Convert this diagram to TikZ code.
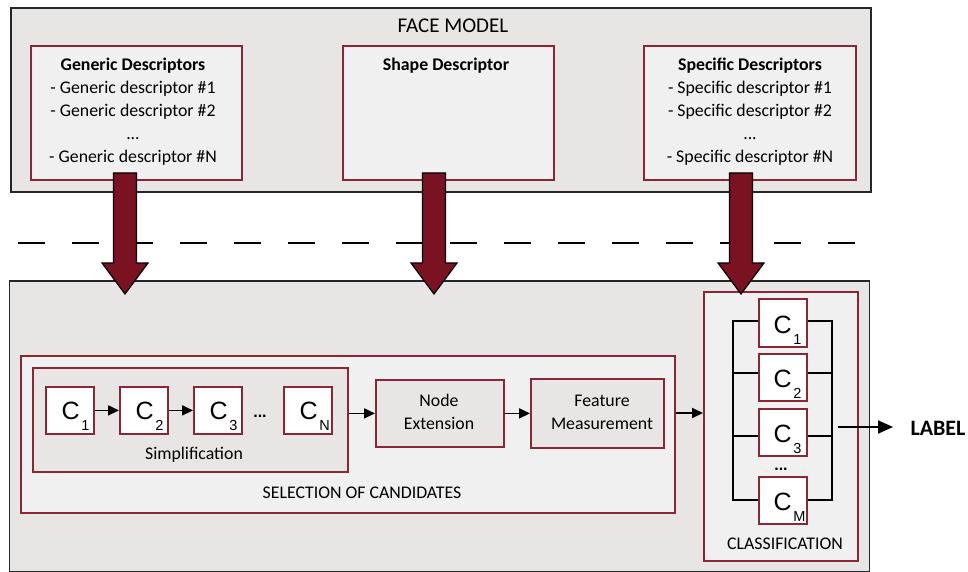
\documentclass[tikz,border=0pt]{standalone}
\usepackage{fontspec}
\setmainfont{Carlito}
\newfontfamily\arialfont{Liberation Sans}
\usetikzlibrary{calc,arrows.meta}

\definecolor{panelgray}{HTML}{E7E6E4}
\definecolor{boxgray}{HTML}{F0F0F0}
\definecolor{wine}{HTML}{8B2635}
\definecolor{arrowred}{HTML}{7A1222}

% classifier label: C with a lowered index
\newcommand{\clabel}[1]{{\arialfont\fontsize{25}{25}\selectfont C\kern1.5pt\raisebox{-11pt}{\fontsize{14.5}{14.5}\selectfont #1}}}

\begin{document}
\begin{tikzpicture}[x=1pt,y=-1pt,
  panel/.style={draw=black!85, line width=1.8pt, fill=panelgray, anchor=north west, inner sep=0pt},
  wbox/.style={draw=wine, line width=1.8pt, fill=boxgray, anchor=north west, inner sep=0pt},
  gbox/.style={draw=wine, line width=1.8pt, fill=panelgray, anchor=north west, inner sep=0pt},
  cbox/.style={draw=wine, line width=1.8pt, fill=white, anchor=north west, inner sep=0pt,
               minimum width=48pt, minimum height=47pt},
  clab/.style={anchor=base west, inner sep=0pt},
  txt/.style={inner sep=0pt, anchor=base, font=\fontsize{17.8}{23}\selectfont, align=center},
  dots/.style={inner sep=0pt, anchor=base, font=\arialfont\bfseries\fontsize{16}{16}\selectfont},
  link/.style={line width=1.8pt, -{Triangle[length=11pt,width=10pt]}},
  bus/.style={line width=1.6pt, black},
  fat/.style={draw=black, line width=1.2pt, fill=arrowred, line join=miter},
]
\useasboundingbox (0,0) rectangle (968,572);

% ---------- face model ----------
\node[panel, minimum width=860pt, minimum height=184pt] (model) at (10,7) {};
\node[txt, font=\fontsize{21}{21}\selectfont] (modeltitle) at (453,33) {FACE MODEL};

\node[wbox, minimum width=211pt, minimum height=134pt] (gen) at (30,45) {};
\node[wbox, minimum width=211pt, minimum height=134pt] (shape) at (342,45) {};
\node[wbox, minimum width=212pt, minimum height=134pt] (spec) at (643,45) {};

% multi-line nodes are anchored on the baseline of their last line
\node[txt] (gentext) at (133,163) {\textbf{Generic Descriptors}\\- Generic descriptor \#1\\- Generic descriptor \#2\\...\\- Generic descriptor \#N};
\node[txt] (shapetext) at (446,71) {\textbf{Shape Descriptor}};
\node[txt] (spectext) at (750,163) {\textbf{Specific Descriptors}\\- Specific descriptor \#1\\- Specific descriptor \#2\\...\\- Specific descriptor \#N};

% ---------- separator ----------
\coordinate (sepL) at (18,243);
\coordinate (sepR) at (880,243);
\draw[line width=2pt, dash pattern=on 27pt off 27pt] (sepL) -- (sepR);

% ---------- processing panel ----------
\node[panel, minimum width=860pt, minimum height=291pt] (proc) at (8.5,280) {};

% selection of candidates
\node[wbox, minimum width=654pt, minimum height=157pt] (sel) at (20,355) {};
\node[txt] (seltext) at (362,498) {SELECTION OF CANDIDATES};

\node[gbox, minimum width=315pt, minimum height=104pt] (simp) at (32,367) {};
\node[txt] (simptext) at (194,459) {Simplification};

\node[cbox] (s1) at (45,386) {};
\node[cbox] (s2) at (119,386) {};
\node[cbox] (s3) at (193,386) {};
\node[cbox] (sn) at (283,386) {};
\path (s1.south west) ++(16.5,-15) node[clab] (s1l) {\clabel{1}};
\path (s2.south west) ++(16.5,-15) node[clab] (s2l) {\clabel{2}};
\path (s3.south west) ++(16.5,-15) node[clab] (s3l) {\clabel{3}};
\path (sn.south west) ++(16.5,-15) node[clab] (snl) {\clabel{N}};
\node[dots] (sdots) at (260,417) {...};
\draw[link] (s1) -- (s2);
\draw[link] (s2) -- (s3);

\node[gbox, minimum width=128pt, minimum height=67pt] (ext) at (375,379) {};
\node[txt] (exttext) at (439,429) {Node\\Extension};
\node[gbox, minimum width=133pt, minimum height=69pt] (feat) at (530,378) {};
\node[txt] (feattext) at (602,429) {Feature\\Measurement};

\draw[link] (simp.east |- ext.west) -- (ext.west);
\draw[link] (ext) -- (feat.west |- ext.east);

% classification
\node[wbox, minimum width=154pt, minimum height=269pt] (cls) at (703,291) {};
\node[txt] (clstext) at (785,549) {CLASSIFICATION};
\draw[link] (sel.east |- 0,413) -- (cls.west |- 0,413);

\node[cbox, minimum height=48pt] (k1) at (758,298) {};
\node[cbox] (k2) at (758,353) {};
\node[cbox] (k3) at (758,408) {};
\node[cbox] (km) at (758,476) {};
\path (k1.south west) ++(15.5,-14) node[clab] (k1l) {\clabel{1}};
\path (k2.south west) ++(15.5,-14) node[clab] (k2l) {\clabel{2}};
\path (k3.south west) ++(15.5,-14) node[clab] (k3l) {\clabel{3}};
\path (km.south west) ++(15.5,-14) node[clab] (kml) {\clabel{M}};
\node[dots] (kdots) at (781,470) {...};

\coordinate (busL) at (733,0);
\coordinate (busR) at (832,0);
\draw[bus] (k1.west |- 0,321) -| (busL |- 0,500) -- (km.west |- 0,500);
\draw[bus] (k2.west |- 0,373) -- (busL |- 0,373);
\draw[bus] (k3.west |- 0,436) -- (busL |- 0,436);
\draw[bus] (k1.east |- 0,321) -| (busR |- 0,500) -- (km.east |- 0,500);
\draw[bus] (k2.east |- 0,373) -- (busR |- 0,373);
\draw[bus] (k3.east |- 0,436) -- (busR |- 0,436);

\node[txt, font=\bfseries\fontsize{22}{22}\selectfont] (label) at (938,435) {LABEL};
\coordinate (outstart) at (838,427);
\coordinate (outend) at (893,427);
\draw[line width=1.8pt, -{Triangle[length=15pt,width=13pt]}] (outstart) -- (outend);

% ---------- descriptor flow arrows ----------
\coordinate (g0) at (125,173);
\coordinate (g1) at (125,294);
\coordinate (h0) at (434,173);
\coordinate (h1) at (434,294);
\coordinate (p0) at (741,173);
\coordinate (p1) at (741,294);
\foreach \a/\b in {g0/g1, h0/h1, p0/p1}{
  \draw[fat] ($(\a)+(-11.5,0)$) -- ($(\a)+(11.5,0)$) -- ($(\b)+(11.5,-31)$) -- ($(\b)+(23,-31)$)
    -- (\b) -- ($(\b)+(-23,-31)$) -- ($(\b)+(-11.5,-31)$) -- cycle;
}
\end{tikzpicture}
\end{document}
